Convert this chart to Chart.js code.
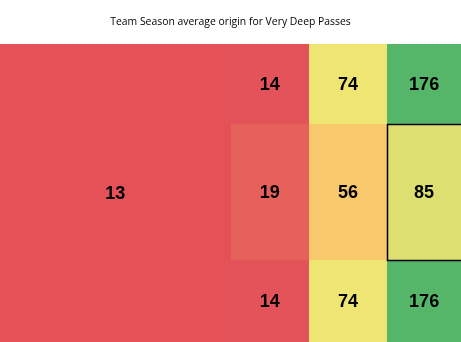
<!DOCTYPE html>
<html>
<head>
<meta charset="utf-8">
<script src="https://cdn.jsdelivr.net/npm/chart.js@4/dist/chart.umd.min.js"></script>
<style>
  html, body { margin: 0; padding: 0; background: #fff; }
  #wrap { width: 461px; height: 342px; }
</style>
</head>
<body>
<div id="wrap"><canvas id="zoneChart"></canvas></div>
<script>
// zone edges in pitch units (0-100 along and across the field)
const xEdges = [0, 50, 67, 84, 100];
const yEdges = [0, 27, 72.5, 100];

// one entry per zone: column span, row span, value
const zoneCol0 = [0, 1, 2, 3, 1, 2, 3, 1, 2, 3];
const zoneCol1 = [1, 2, 3, 4, 2, 3, 4, 2, 3, 4];
const zoneRow0 = [0, 0, 0, 0, 1, 1, 1, 2, 2, 2];
const zoneRow1 = [3, 1, 1, 1, 2, 2, 2, 3, 3, 3];
const zoneValues = [13, 14, 74, 176, 19, 56, 85, 14, 74, 176];
const zoneColors = ['#e45157', '#e5535a', '#efe572', '#55b66a', '#e6615a', '#f7c96c', '#dddf70', '#e5535a', '#efe572', '#55b66a'];
const highlighted = 6;

const points = zoneValues.map((v, i) => ({
  x: (xEdges[zoneCol0[i]] + xEdges[zoneCol1[i]]) / 2,
  y: (yEdges[zoneRow0[i]] + yEdges[zoneRow1[i]]) / 2,
  v: v
}));

function zoneBox(chart, i) {
  const xs = chart.scales.x, ys = chart.scales.y;
  const x0 = Math.round(xs.getPixelForValue(xEdges[zoneCol0[i]]));
  const x1 = Math.round(xs.getPixelForValue(xEdges[zoneCol1[i]]));
  const y0 = Math.round(ys.getPixelForValue(yEdges[zoneRow0[i]]));
  const y1 = Math.round(ys.getPixelForValue(yEdges[zoneRow1[i]]));
  return { x0, x1, y0, y1 };
}

const zonePlugin = {
  id: 'zones',
  beforeDatasetsDraw(chart) {
    const ctx = chart.ctx;
    const xs = chart.scales.x, ys = chart.scales.y;
    ctx.save();
    zoneValues.forEach((v, i) => {
      const b = zoneBox(chart, i);
      ctx.fillStyle = zoneColors[i];
      ctx.fillRect(b.x0, b.y0, b.x1 - b.x0, b.y1 - b.y0);
    });
    // outline of the highlighted zone
    const h = zoneBox(chart, highlighted);
    ctx.strokeStyle = '#000';
    ctx.lineWidth = 1.5;
    ctx.strokeRect(h.x0 + 0.5, h.y0 + 0.5, h.x1 - h.x0 + 2, h.y1 - h.y0);

    ctx.fillStyle = '#000';
    ctx.font = 'bold 18px "Liberation Sans", Arial, sans-serif';
    ctx.textAlign = 'center';
    ctx.textBaseline = 'middle';
    points.forEach(p => {
      ctx.fillText(String(p.v), xs.getPixelForValue(p.x), ys.getPixelForValue(p.y) + 1);
    });
    ctx.restore();
  }
};

new Chart(document.getElementById('zoneChart').getContext('2d'), {
  type: 'scatter',
  data: {
    datasets: [{
      data: points,
      pointRadius: 0,
      pointHoverRadius: 0
    }]
  },
  options: {
    responsive: true,
    maintainAspectRatio: false,
    animation: false,
    layout: { padding: 0 },
    scales: {
      x: { type: 'linear', min: 0, max: 100, display: false },
      y: { type: 'linear', min: 0, max: 100, reverse: true, display: false }
    },
    plugins: {
      legend: { display: false },
      tooltip: { enabled: false },
      title: {
        display: true,
        text: 'Team Season average origin for Very Deep Passes',
        color: '#000',
        font: { family: '"Open Sans", "Liberation Sans", sans-serif', size: 10.4, weight: 'normal' },
        padding: { top: 15.5, bottom: 16 }
      }
    }
  },
  plugins: [zonePlugin]
});
</script>
</body>
</html>
